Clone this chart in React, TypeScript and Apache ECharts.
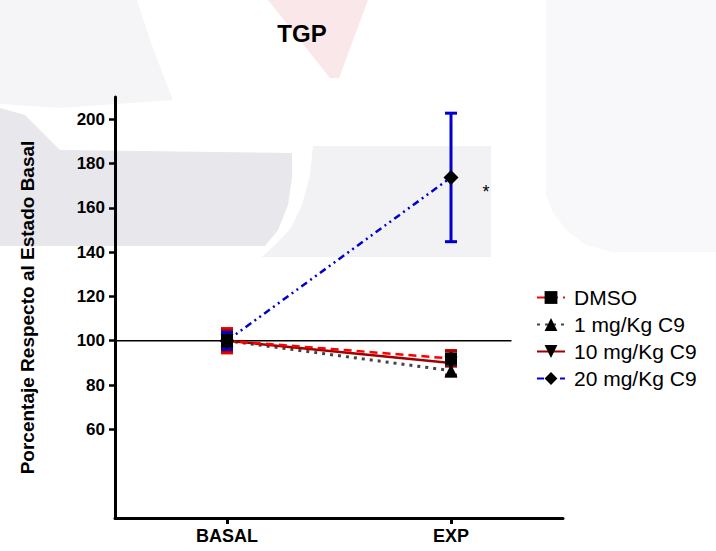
import React, { useEffect, useRef } from 'react';
import * as echarts from 'echarts';

// ---- data ----
const categories = ['BASAL', 'EXP'];
const yTicks = [60, 80, 100, 120, 140, 160, 180, 200];
const seriesNames = ['DMSO', '1 mg/Kg C9', '10 mg/Kg C9', '20 mg/Kg C9'];
const dmsoMean = [100, 92];
const dmsoSem = [5.5, 3.5];
const c9Low1Mean = [100, 86.5];
const c9Low1Sem = [3, 2.5];
const c9Mid10Mean = [100, 90];
const c9Mid10Sem = [4.5, 5.5];
const c9High20Mean = [100, 173.7];
const c9High20Sem = [3.8, 29];
const c9High20Marks = ['', '*'];
const baselineValue = 100;
const baselineX = [-0.5, 1.27];
const titleText = 'TGP';
const yAxisName = 'Porcentaje Respecto al Estado Basal';

const FONT = '"Liberation Sans", Arial, Helvetica, sans-serif';

const styles = [
  { color: '#ff0000', errColor: '#ee0000', dash: [8, 5] as any, width: 2.5, symbol: 'rect', size: 12, rotate: 0 },
  { color: '#444444', errColor: '#222222', dash: [3, 5] as any, width: 3, symbol: 'triangle', size: 13, rotate: 0 },
  { color: '#a00000', errColor: '#b00000', dash: 'solid' as any, width: 2.5, symbol: 'triangle', size: 13, rotate: 180 },
  { color: '#0000cc', errColor: '#0000cc', dash: [7, 4, 2, 4, 2, 4] as any, width: 2.5, symbol: 'diamond', size: 15, rotate: 0 },
];

const means = [dmsoMean, c9Low1Mean, c9Mid10Mean, c9High20Mean];
const sems = [dmsoSem, c9Low1Sem, c9Mid10Sem, c9High20Sem];

function errorSeries(idx: number) {
  const st = styles[idx];
  return {
    type: 'custom',
    silent: true,
    z: 3,
    data: means[idx].map((m, i) => [i, m - sems[idx][i], m + sems[idx][i]]),
    encode: { x: 0, y: [1, 2] },
    renderItem: (params: any, api: any) => {
      const x = api.value(0);
      const lo = api.value(1);
      const hi = api.value(2);
      const top = api.coord([x, hi]);
      const bot = api.coord([x, lo]);
      const hw = 6;
      const s = { stroke: st.errColor, lineWidth: 3 };
      return {
        type: 'group',
        children: [
          { type: 'line', shape: { x1: top[0], y1: top[1], x2: bot[0], y2: bot[1] }, style: s },
          { type: 'line', shape: { x1: top[0] - hw, y1: top[1], x2: top[0] + hw, y2: top[1] }, style: s },
          { type: 'line', shape: { x1: bot[0] - hw, y1: bot[1], x2: bot[0] + hw, y2: bot[1] }, style: s },
        ],
      };
    },
  };
}

function lineSeries(idx: number) {
  const st = styles[idx];
  return {
    type: 'line',
    name: seriesNames[idx],
    z: 4,
    symbol: st.symbol,
    symbolSize: st.size,
    symbolRotate: st.rotate,
    showAllSymbol: true,
    lineStyle: { color: st.color, width: st.width, type: st.dash },
    itemStyle: { color: '#000000' },
    data: means[idx].map((m, i) => {
      const item: any = { value: [i, m] };
      if (idx === 3 && c9High20Marks[i]) {
        item.label = {
          show: true,
          formatter: c9High20Marks[i],
          position: 'right',
          offset: [19, 15],
          fontSize: 18,
          color: '#000',
          fontFamily: FONT,
        };
      }
      return item;
    }),
  };
}

const bgShapes = [
  { points: [[268, 0], [368, 0], [339, 78], [330, 78]], fill: '#fae7ea' },
  { points: [[0, 0], [137, 0], [150, 40], [163, 75], [173, 100], [60, 108], [0, 104]], fill: '#f5f5f7' },
  { points: [[0, 108], [25, 115], [45, 135], [60, 150], [292, 153], [292, 178], [288, 205], [278, 230], [265, 246], [0, 246]], fill: '#e7e7ec' },
  { points: [[313, 146], [491, 146], [491, 257], [262, 257], [276, 244], [291, 228], [302, 205], [310, 175]], fill: '#f2f2f5' },
  { points: [[546, 0], [716, 0], [716, 252], [612, 252], [586, 245], [566, 230], [553, 212], [546, 195]], fill: '#f8f8fa' },
];

export default function App() {
  const ref = useRef<HTMLDivElement>(null);
  useEffect(() => {
    if (!ref.current) return;
    const chart = echarts.init(ref.current, undefined, { renderer: 'svg' });
    const legendText = { fontSize: 21, color: '#000000', fontFamily: FONT, padding: [0, 0, 0, 4] };
    const option: any = {
      animation: false,
      backgroundColor: '#ffffff',
      graphic: [
        ...bgShapes.map((b) => ({
          type: 'polygon',
          z: -10,
          silent: true,
          shape: { points: b.points },
          style: { fill: b.fill },
        })),
        {
          type: 'text',
          x: 302,
          y: 33,
          z: 10,
          style: {
            text: titleText,
            fill: '#000',
            font: `bold 24px ${FONT}`,
            textAlign: 'center',
            textVerticalAlign: 'middle',
          },
        },
      ],
      grid: { left: 115, right: 153, top: 97, bottom: 33, containLabel: false },
      legend: {
        data: seriesNames.map((n) => ({ name: n, textStyle: legendText })),
        orient: 'vertical',
        left: 531,
        top: 282,
        itemWidth: 28,
        itemHeight: 16,
        itemGap: 6,
        textStyle: legendText,
      },
      xAxis: {
        type: 'value',
        min: -0.5,
        max: 1.5,
        splitLine: { show: false },
        axisLine: { show: true, onZero: false, lineStyle: { color: '#000', width: 3 } },
        axisTick: { show: true, customValues: [0, 1], length: 6, lineStyle: { color: '#000', width: 3 } },
        axisLabel: {
          customValues: [0, 1],
          formatter: (v: number) => categories[Math.round(v)] ?? '',
          fontSize: 18,
          fontWeight: 'bold',
          color: '#000',
          fontFamily: FONT,
          margin: 9,
        },
      },
      yAxis: {
        type: 'value',
        min: 20,
        max: 210,
        interval: 20,
        splitLine: { show: false },
        axisLine: { show: true, onZero: false, lineStyle: { color: '#000', width: 3 } },
        axisTick: { show: true, customValues: yTicks, length: 6, lineStyle: { color: '#000', width: 2.5 } },
        axisLabel: {
          customValues: yTicks,
          fontSize: 17,
          fontWeight: 'bold',
          color: '#000',
          fontFamily: FONT,
          margin: 10,
        },
        name: yAxisName,
        nameLocation: 'middle',
        nameGap: 78,
        nameTextStyle: { fontSize: 19, fontWeight: 'bold', color: '#000', fontFamily: FONT },
      },
      series: [
        {
          type: 'line',
          name: 'baseline',
          z: 1,
          symbol: 'none',
          silent: true,
          lineStyle: { color: '#000', width: 1.5 },
          data: baselineX.map((x) => [x, baselineValue]),
        },
        errorSeries(0),
        errorSeries(1),
        errorSeries(2),
        errorSeries(3),
        lineSeries(3),
        lineSeries(1),
        lineSeries(2),
        lineSeries(0),
      ],
    };
    chart.setOption(option);
    return () => chart.dispose();
  }, []);
  return (
    <div
      ref={ref}
      style={{ position: 'absolute', left: 0, top: 0, width: 716, height: 551 }}
    />
  );
}
